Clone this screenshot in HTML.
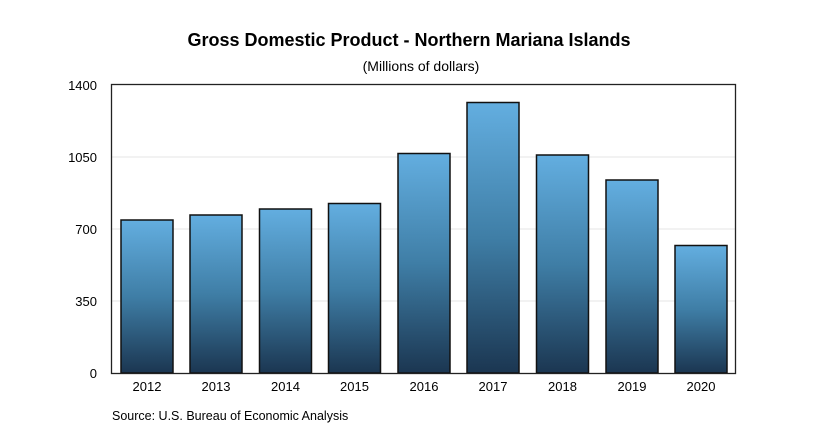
<!DOCTYPE html>
<html><head><style>
html,body{margin:0;padding:0;background:#fff;}
svg{display:block;font-family:"Liberation Sans",Arial,sans-serif;}
</style></head><body>
<svg width="816" height="435" viewBox="0 0 816 435" xmlns="http://www.w3.org/2000/svg">
<defs>
<linearGradient id="g" x1="0" y1="0" x2="0" y2="1">
<stop offset="0" stop-color="#63aee0"/>
<stop offset="0.5" stop-color="#3f7ea6"/>
<stop offset="1" stop-color="#1b3651"/>
</linearGradient>
</defs>
<text x="409" y="46" text-anchor="middle" font-size="18" font-weight="bold" fill="#000">Gross Domestic Product - Northern Mariana Islands</text>
<text x="421" y="71" text-anchor="middle" font-size="14" fill="#000">(Millions of dollars)</text>
<g stroke="#e6e6e6" stroke-width="1">
<line x1="112" y1="157" x2="735" y2="157"/>
<line x1="112" y1="229" x2="735" y2="229"/>
<line x1="112" y1="301" x2="735" y2="301"/>
</g>
<g font-size="13" fill="#000" text-anchor="end">
<text x="97" y="90">1400</text>
<text x="97" y="162">1050</text>
<text x="97" y="234">700</text>
<text x="97" y="306">350</text>
<text x="97" y="378">0</text>
</g>
<g fill="url(#g)" stroke="#111" stroke-width="1.5">
<rect x="121" y="220" width="52" height="153"/>
<rect x="190" y="215" width="52" height="158"/>
<rect x="259.5" y="209" width="52" height="164"/>
<rect x="328.5" y="203.5" width="52" height="169.5"/>
<rect x="398" y="153.5" width="52" height="219.5"/>
<rect x="467" y="102.5" width="52" height="270.5"/>
<rect x="536.5" y="155" width="52" height="218"/>
<rect x="606" y="180" width="52" height="193"/>
<rect x="675" y="245.5" width="52" height="127.5"/>
</g>
<rect x="111.5" y="84.5" width="624" height="289" fill="none" stroke="#222" stroke-width="1.3"/>
<g font-size="13" fill="#000" text-anchor="middle">
<text x="147" y="391">2012</text>
<text x="216" y="391">2013</text>
<text x="285.5" y="391">2014</text>
<text x="354.5" y="391">2015</text>
<text x="424" y="391">2016</text>
<text x="493" y="391">2017</text>
<text x="562.5" y="391">2018</text>
<text x="632" y="391">2019</text>
<text x="701" y="391">2020</text>
</g>
<text x="112" y="420" font-size="12.5" fill="#000">Source: U.S. Bureau of Economic Analysis</text>
</svg>
</body></html>
